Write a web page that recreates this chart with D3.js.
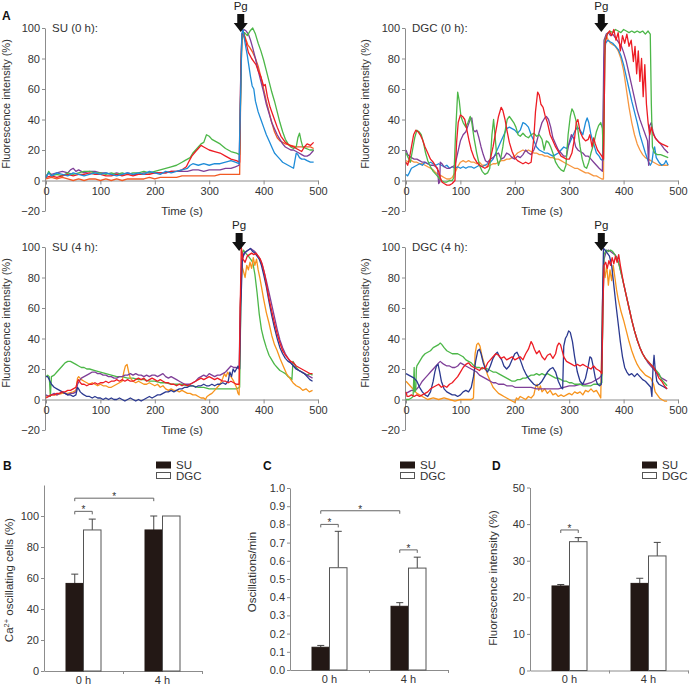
<!DOCTYPE html>
<html><head><meta charset="utf-8">
<script src="https://cdn.jsdelivr.net/npm/d3@7"></script>
<style>body{margin:0;background:#fff} svg{display:block} text{font-family:Arial,"Liberation Sans",Helvetica,sans-serif}</style>
</head><body><svg id="c" width="690" height="687"></svg>
<script>
// ---------- Data: panel A traces, [time (s), fluorescence (%)] ----------
const xTicks = [0,100,200,300,400,500];
const yTicks = [-20,0,20,40,60,80,100];

// SU (0 h)
const su0_green = [[0,2],[5,6],[10,3],[20,4],[30,3],[40,5],[50,4],[60,5],[70,6],[80,6],[90,5],[100,5],[110,4],[120,5],[130,4],[140,5],[150,4],[160,5],[170,5],[180,6],[190,5],[200,6],[210,7],[220,8],[230,9],[240,10],[250,12],[255,13],[260,14],[265,15],[270,18],[275,20],[280,22],[285,24],[290,25],[295,30],[300,29],[305,27],[310,26],[320,24],[330,21],[340,19],[350,18],[356,17],[358,60],[360,92],[365,97],[370,95],[375,98],[380,100],[385,96],[390,90],[395,85],[400,79],[405,72],[410,65],[415,58],[420,52],[425,45],[430,38],[435,32],[440,27],[445,24],[450,22],[455,21],[460,22],[463,28],[466,31],[469,26],[472,22],[478,21],[485,20],[492,20]];
const su0_red = [[0,2],[10,3],[20,2],[30,3],[40,4],[50,3],[60,4],[70,4],[80,5],[90,4],[100,4],[110,3],[120,3],[130,4],[140,3],[150,4],[160,3],[170,4],[180,4],[190,4],[200,5],[210,5],[220,5],[230,6],[240,6],[250,7],[258,9],[262,12],[268,16],[275,19],[280,21],[285,23],[290,22],[295,21],[300,20],[310,19],[320,18],[330,16],[340,14],[350,13],[356,12],[358,70],[360,95],[363,97],[368,90],[372,84],[378,80],[382,78],[386,76],[390,72],[395,68],[400,62],[403,63],[407,55],[412,48],[418,42],[425,35],[432,29],[440,25],[448,23],[455,22],[460,21],[465,20],[470,19],[475,22],[480,24],[486,23],[492,25]];
const su0_blue = [[0,2],[5,5],[10,3],[20,5],[30,4],[40,3],[50,5],[60,4],[70,3],[80,4],[90,5],[100,4],[110,5],[120,4],[130,3],[140,4],[150,5],[160,4],[170,5],[180,4],[190,6],[200,5],[210,4],[220,6],[230,5],[240,6],[250,7],[260,8],[265,10],[270,11],[280,10],[290,11],[300,10],[310,11],[320,11],[330,12],[340,13],[348,12],[355,11],[358,60],[360,96],[362,99],[366,90],[370,82],[373,75],[376,68],[379,62],[382,60],[385,52],[390,45],[395,40],[400,35],[405,30],[410,26],[415,22],[420,18],[425,16],[430,14],[435,12],[440,11],[445,10],[450,9],[455,8],[457,12],[460,18],[463,17],[466,15],[470,14],[475,14],[480,13],[486,12],[492,12]];
const su0_purple = [[0,3],[5,5],[10,4],[20,5],[30,6],[40,5],[45,7],[50,8],[55,6],[60,7],[65,6],[70,5],[80,6],[90,6],[100,5],[110,5],[120,4],[130,5],[140,4],[150,5],[160,4],[170,4],[180,5],[190,5],[200,5],[210,5],[220,5],[230,6],[240,6],[250,6],[260,6],[270,7],[280,7],[290,6],[300,7],[310,7],[320,7],[330,8],[340,8],[348,9],[355,10],[358,70],[360,96],[364,99],[368,98],[372,96],[376,92],[380,87],[385,80],[390,72],[395,65],[400,58],[405,50],[410,44],[415,38],[420,34],[425,30],[430,27],[435,24],[440,22],[445,21],[450,20],[455,20],[460,19],[465,18],[470,17],[475,16],[480,16],[485,17],[490,19],[492,20]];
const su0_orange = [[0,1],[10,2],[20,1],[30,2],[40,1],[50,0],[60,1],[70,0],[80,1],[90,1],[100,0],[110,1],[120,0],[130,1],[140,0],[150,1],[160,1],[170,1],[180,1],[190,2],[200,1],[210,2],[220,2],[230,2],[240,2],[250,3],[260,3],[270,3],[280,3],[290,3],[300,3],[310,3],[320,4],[330,4],[340,4],[350,4],[356,4],[358,60],[360,96],[363,97],[367,93],[371,89],[375,87],[380,84],[385,80],[390,75],[395,68],[400,60],[405,52],[410,45],[415,38],[420,32],[425,28],[430,26],[440,24],[450,23],[460,22],[470,22],[480,22],[486,22],[492,21]];

// DGC (0 h)
const dgc0_red = [[0,12],[3,10],[6,14],[10,22],[14,30],[18,33],[22,32],[26,30],[30,27],[35,22],[40,18],[45,14],[50,12],[55,9],[60,6],[63,2],[66,-1],[70,-2],[75,-3],[80,-3],[85,-2],[90,0],[93,25],[96,38],[100,43],[104,42],[108,40],[112,33],[116,26],[120,20],[125,15],[130,12],[135,10],[140,9],[145,8],[150,9],[155,14],[160,22],[165,32],[170,42],[175,48],[178,46],[182,40],[186,32],[190,25],[195,19],[200,15],[205,13],[210,12],[215,11],[220,12],[225,11],[230,12],[235,28],[238,45],[242,58],[245,56],[248,50],[252,48],[256,42],[260,38],[265,30],[270,26],[275,22],[280,19],[285,16],[290,15],[295,14],[300,14],[305,18],[310,28],[313,38],[316,40],[320,32],[325,28],[330,26],[335,27],[338,30],[342,22],[345,28],[348,24],[352,20],[356,18],[360,16],[363,14],[366,90],[370,96],[374,98],[378,95],[382,99],[386,92],[390,97],[394,85],[398,95],[402,90],[406,96],[410,88],[414,92],[418,78],[421,88],[424,70],[427,85],[430,65],[433,80],[436,55],[439,76],[442,50],[445,38],[448,30],[451,35],[455,30],[460,27],[465,25],[470,24],[476,23],[482,22]];
const dgc0_green = [[0,18],[4,15],[8,12],[12,20],[16,28],[20,33],[24,32],[28,30],[32,25],[36,18],[40,13],[45,9],[50,6],[55,4],[60,2],[65,0],[70,-1],[75,-1],[80,0],[85,0],[88,2],[91,30],[95,58],[98,52],[101,42],[105,38],[110,35],[114,38],[118,42],[121,38],[125,28],[130,18],[135,10],[140,6],[145,4],[150,5],[154,8],[158,30],[161,40],[164,28],[167,15],[170,10],[174,14],[178,22],[182,32],[186,40],[190,42],[194,40],[198,38],[202,35],[206,30],[210,29],[215,31],[220,29],[225,28],[230,30],[235,31],[240,29],[245,30],[250,27],[254,20],[258,26],[262,25],[266,22],[270,18],[275,12],[280,9],[285,7],[290,6],[294,10],[298,30],[302,42],[305,47],[308,45],[312,40],[316,33],[320,22],[324,14],[328,9],[332,8],[336,12],[340,18],[345,24],[350,32],[354,36],[358,38],[361,34],[363,14],[366,92],[370,96],[375,98],[380,97],[385,99],[390,98],[395,97],[400,99],[405,98],[410,97],[415,98],[420,97],[425,98],[430,97],[435,98],[440,96],[445,98],[449,96],[451,50],[453,22],[457,18],[462,17],[468,17],[475,16],[482,15]];
const dgc0_purple = [[0,20],[3,17],[6,16],[10,15],[15,14],[20,14],[25,13],[30,12],[35,12],[40,11],[45,10],[50,10],[55,9],[58,8],[60,-2],[62,-1],[63,12],[66,11],[70,9],[75,8],[80,8],[85,9],[90,10],[95,18],[100,26],[105,30],[110,32],[114,36],[118,40],[121,41],[124,33],[127,32],[130,33],[134,28],[138,22],[142,17],[146,13],[150,12],[155,14],[160,15],[165,17],[170,18],[175,14],[180,15],[185,18],[190,17],[195,15],[200,14],[205,16],[210,15],[215,17],[220,20],[225,18],[230,17],[235,20],[240,25],[245,32],[250,38],[255,41],[258,42],[262,40],[266,35],[270,28],[275,24],[280,20],[285,18],[290,16],[295,16],[300,25],[304,30],[308,28],[312,22],[316,20],[320,19],[325,18],[330,16],[335,16],[340,14],[345,12],[350,10],[355,8],[358,7],[361,6],[364,92],[368,96],[372,97],[376,95],[380,96],[384,94],[388,92],[392,90],[396,88],[400,84],[405,78],[410,70],[415,62],[420,54],[425,46],[430,40],[435,35],[440,30],[444,26],[446,10],[448,36],[451,38],[454,32],[458,28],[463,26],[468,24],[474,21],[482,18]];
const dgc0_blue = [[0,4],[3,3],[6,5],[10,8],[15,9],[20,10],[25,11],[30,10],[35,12],[40,11],[45,12],[50,11],[55,10],[60,11],[65,10],[70,9],[75,10],[80,8],[85,9],[90,8],[95,9],[100,8],[105,9],[110,8],[115,9],[120,9],[125,8],[130,9],[135,10],[140,9],[145,10],[150,11],[155,12],[160,14],[165,18],[170,22],[175,26],[180,30],[185,34],[190,35],[195,34],[200,33],[205,31],[210,33],[215,38],[220,37],[225,35],[230,30],[235,26],[240,22],[245,20],[250,19],[255,18],[260,18],[265,17],[270,16],[275,17],[280,18],[285,20],[290,22],[295,21],[300,24],[305,28],[310,32],[315,35],[320,33],[325,30],[330,38],[333,41],[336,38],[340,30],[345,24],[350,18],[355,16],[358,14],[362,13],[364,80],[367,90],[371,92],[375,91],[380,90],[385,88],[390,86],[395,82],[400,76],[405,68],[410,60],[415,52],[420,45],[425,38],[430,30],[435,24],[440,18],[445,13],[449,10],[452,12],[455,20],[457,22],[460,15],[465,12],[470,10],[475,11],[478,13],[482,10]];
const dgc0_orange = [[0,13],[5,12],[10,13],[15,12],[20,12],[25,11],[30,11],[35,10],[40,9],[45,8],[50,7],[55,5],[60,4],[65,3],[70,2],[75,1],[80,1],[85,2],[90,5],[95,9],[100,12],[105,13],[110,12],[115,13],[120,12],[125,12],[130,11],[135,12],[140,10],[145,10],[150,9],[155,10],[160,11],[165,11],[170,12],[175,13],[180,13],[185,14],[190,14],[195,15],[200,16],[205,18],[210,19],[215,20],[220,19],[225,20],[230,19],[235,18],[240,18],[245,17],[250,17],[255,16],[260,16],[265,15],[270,15],[275,14],[280,14],[285,13],[290,12],[295,11],[300,10],[305,9],[310,8],[315,8],[320,7],[325,6],[330,5],[335,5],[340,4],[345,3],[350,3],[355,2],[360,1],[363,1],[365,90],[368,95],[372,92],[376,90],[380,89],[385,88],[390,85],[395,80],[400,72],[405,60],[410,48],[415,38],[420,30],[425,24],[430,20],[435,17],[440,15],[445,14],[450,13],[455,12],[460,11],[465,10],[470,10],[476,10],[482,10]];

// SU (4 h)
const su4_green = [[0,15],[3,16],[6,15],[8,2],[10,15],[15,16],[20,18],[25,20],[30,22],[35,24],[40,25],[45,25],[50,24],[55,23],[60,22],[65,21],[70,21],[75,20],[80,20],[90,19],[100,18],[110,17],[120,16],[130,15],[140,15],[150,14],[160,14],[170,13],[180,13],[190,12],[200,12],[210,11],[220,11],[230,10],[240,10],[250,10],[260,9],[270,9],[280,8],[290,8],[300,7],[310,7],[320,7],[330,7],[340,7],[350,7],[356,8],[358,60],[360,95],[363,98],[367,96],[372,94],[376,92],[380,90],[384,82],[388,70],[392,56],[396,46],[400,40],[405,34],[410,29],[415,26],[420,23],[425,21],[430,19],[435,18],[440,17],[445,15],[450,14],[452,13],[454,25],[457,23],[460,21],[465,19],[470,18],[475,17],[480,16],[485,17],[490,16]];
const su4_orange = [[0,2],[10,3],[20,3],[30,4],[40,4],[50,5],[55,6],[58,14],[60,15],[65,13],[70,12],[75,11],[80,10],[85,11],[90,10],[95,9],[100,10],[105,9],[110,9],[115,8],[120,8],[125,9],[130,10],[135,11],[140,12],[143,18],[146,22],[149,23],[152,18],[155,14],[160,12],[165,11],[170,12],[175,11],[180,10],[185,10],[190,11],[195,10],[200,9],[205,10],[210,8],[215,9],[220,7],[225,6],[230,7],[235,6],[240,6],[245,5],[250,6],[255,5],[260,4],[265,4],[270,3],[275,3],[280,2],[285,1],[290,1],[293,0],[296,2],[300,3],[305,4],[310,6],[315,8],[320,10],[325,14],[328,17],[331,15],[334,18],[337,16],[340,15],[345,12],[350,8],[353,4],[355,3],[357,60],[360,88],[363,84],[366,80],[369,88],[372,85],[375,90],[378,86],[381,93],[384,88],[387,92],[390,85],[393,80],[396,74],[400,66],[405,57],[410,50],[415,42],[420,36],[425,32],[430,27],[436,22],[442,17],[448,14],[454,11],[460,9],[466,8],[472,6],[478,7],[484,5],[490,6]];
const su4_blue = [[0,15],[3,15],[6,13],[10,10],[15,8],[20,7],[25,6],[30,5],[35,4],[40,3],[45,3],[50,2],[55,3],[58,8],[60,7],[63,5],[66,4],[70,3],[75,2],[80,2],[85,1],[90,2],[95,1],[100,1],[105,0],[110,1],[115,0],[120,1],[125,0],[130,0],[135,1],[140,0],[145,-1],[150,0],[155,1],[160,0],[165,-1],[170,0],[175,-1],[180,0],[185,1],[190,2],[195,1],[200,2],[205,3],[210,3],[215,4],[220,5],[225,5],[230,6],[235,5],[240,6],[245,7],[250,7],[255,8],[260,8],[265,9],[270,9],[275,8],[280,9],[285,9],[290,10],[295,9],[300,9],[305,10],[310,9],[315,10],[320,10],[325,11],[330,10],[335,12],[338,18],[341,15],[344,20],[347,18],[350,20],[353,22],[356,20],[358,60],[361,92],[364,96],[368,97],[372,98],[376,99],[380,97],[384,96],[388,94],[392,92],[396,88],[400,82],[405,74],[410,64],[415,55],[420,47],[425,40],[430,34],[435,30],[440,27],[445,25],[450,24],[455,22],[460,20],[465,19],[470,18],[475,17],[480,15],[485,13],[490,12]];
const su4_red = [[0,1],[5,2],[10,3],[15,3],[20,4],[25,4],[30,5],[35,5],[40,6],[45,6],[50,7],[55,8],[58,12],[60,13],[63,11],[66,10],[70,10],[75,9],[80,10],[85,10],[90,11],[95,10],[100,11],[105,11],[110,12],[115,11],[120,12],[125,12],[130,13],[135,12],[140,13],[145,12],[150,13],[155,12],[160,12],[165,13],[170,14],[175,13],[180,14],[185,12],[190,13],[195,14],[200,13],[205,12],[210,13],[215,12],[220,11],[225,11],[230,10],[235,10],[240,9],[245,10],[250,9],[255,10],[260,9],[265,10],[270,11],[275,12],[280,13],[285,14],[290,13],[295,14],[300,15],[305,14],[310,13],[315,14],[320,13],[325,12],[330,12],[335,11],[340,12],[345,11],[350,10],[355,10],[357,60],[359,100],[362,92],[366,90],[370,94],[374,95],[378,96],[382,95],[386,96],[390,94],[394,92],[398,88],[402,82],[406,74],[410,66],[415,58],[420,50],[425,43],[430,37],[435,32],[440,29],[445,27],[450,25],[455,24],[460,22],[465,21],[470,20],[475,19],[480,18],[485,17],[490,17]];
const su4_purple = [[0,3],[5,2],[10,3],[15,4],[20,3],[25,4],[30,5],[35,4],[40,3],[45,4],[50,4],[55,5],[58,10],[61,12],[65,14],[70,15],[75,16],[80,17],[85,18],[90,18],[95,17],[100,17],[105,16],[110,16],[115,15],[120,15],[125,14],[130,14],[135,15],[140,15],[145,16],[150,16],[155,17],[160,16],[165,17],[170,16],[175,16],[180,15],[185,16],[190,15],[195,16],[200,16],[205,15],[210,16],[215,17],[220,15],[225,14],[230,15],[235,14],[240,13],[245,12],[250,11],[255,10],[260,10],[265,10],[270,11],[275,12],[280,14],[285,15],[290,16],[295,15],[300,17],[305,16],[310,15],[315,16],[320,16],[325,17],[330,18],[335,20],[340,22],[345,21],[350,21],[355,20],[357,60],[360,92],[364,95],[368,97],[372,98],[376,99],[380,98],[384,97],[388,95],[392,93],[396,90],[400,85],[405,78],[410,70],[415,62],[420,54],[425,46],[430,39],[435,34],[440,30],[445,27],[450,24],[455,22],[460,20],[465,19],[470,18],[475,17],[480,16],[485,15],[490,14]];

// DGC (4 h)
const dgc4_green = [[0,0],[5,0],[10,1],[13,2],[15,21],[16,5],[18,6],[19,20],[20,22],[25,25],[30,28],[35,30],[40,31],[45,32],[50,34],[55,35],[60,36],[63,37],[66,36],[70,34],[75,32],[80,31],[85,30],[90,30],[95,30],[100,29],[105,28],[110,26],[115,25],[120,24],[125,22],[130,21],[135,21],[140,20],[145,21],[150,20],[155,19],[160,18],[165,18],[170,17],[175,16],[180,15],[185,14],[190,13],[195,12],[200,12],[205,13],[210,13],[215,14],[220,14],[225,15],[230,16],[235,16],[240,17],[245,16],[250,17],[255,16],[260,17],[265,16],[270,15],[275,14],[280,14],[285,13],[290,12],[295,12],[300,11],[305,11],[310,10],[315,10],[320,10],[325,9],[330,9],[335,9],[340,9],[345,10],[350,10],[355,10],[360,11],[362,60],[364,95],[368,98],[372,97],[376,98],[380,97],[384,95],[388,92],[392,88],[396,82],[400,76],[405,68],[410,60],[415,52],[420,45],[425,39],[430,34],[435,30],[440,27],[445,25],[450,23],[455,21],[460,19],[465,17],[470,13],[475,11],[480,9]];
const dgc4_purple = [[0,4],[5,5],[10,6],[15,6],[20,7],[25,9],[30,12],[35,14],[40,16],[45,18],[50,20],[55,22],[60,24],[63,25],[66,24],[70,23],[75,22],[80,22],[85,21],[90,21],[95,22],[100,24],[105,23],[110,22],[115,21],[120,20],[125,19],[130,18],[135,16],[140,15],[145,14],[150,13],[155,12],[160,11],[165,11],[170,10],[175,10],[180,10],[185,9],[190,9],[195,9],[200,8],[210,8],[220,8],[230,8],[240,7],[250,7],[260,7],[270,7],[280,7],[290,8],[300,9],[310,9],[320,10],[330,10],[340,11],[345,12],[350,13],[355,14],[360,16],[362,60],[364,92],[368,97],[372,98],[376,97],[380,96],[384,95],[388,93],[392,88],[396,82],[400,76],[405,68],[410,60],[415,52],[420,45],[425,39],[430,34],[435,30],[440,27],[445,24],[450,22],[455,20],[460,18],[465,16],[470,14],[475,13],[480,12]];
const dgc4_blue = [[0,17],[5,16],[10,15],[15,14],[20,12],[25,8],[30,5],[35,3],[40,2],[45,5],[50,12],[53,18],[56,22],[59,23],[62,18],[65,12],[70,7],[75,5],[80,4],[85,3],[90,3],[95,2],[100,3],[105,5],[110,6],[115,5],[120,8],[124,15],[128,25],[132,32],[135,33],[138,30],[142,24],[146,20],[150,18],[155,22],[160,27],[165,30],[168,31],[172,28],[176,26],[180,22],[185,20],[190,22],[195,26],[200,30],[204,31],[208,28],[212,24],[216,20],[220,17],[225,14],[230,12],[235,10],[240,9],[245,10],[250,12],[255,15],[260,18],[265,20],[270,21],[275,18],[280,12],[285,8],[288,7],[290,35],[293,40],[296,42],[299,45],[302,44],[306,38],[310,28],[315,18],[320,12],[325,10],[330,14],[335,22],[338,28],[341,27],[344,22],[348,14],[352,10],[356,9],[359,10],[361,60],[363,99],[366,98],[370,96],[374,94],[378,88],[382,75],[386,62],[390,50],[394,38],[398,28],[402,21],[406,18],[410,16],[415,17],[420,15],[425,17],[430,15],[435,13],[440,12],[445,10],[450,8],[452,2],[454,20],[456,29],[458,20],[461,12],[465,10],[470,9],[475,8],[480,7]];
const dgc4_red = [[0,5],[2,2],[5,2],[10,3],[15,2],[20,3],[25,2],[30,3],[35,4],[40,5],[45,7],[50,8],[55,9],[60,10],[65,8],[70,9],[75,8],[80,10],[85,11],[90,13],[95,15],[100,18],[105,21],[110,23],[115,24],[120,22],[125,21],[130,20],[135,19],[140,21],[145,20],[150,24],[155,26],[160,28],[165,30],[170,29],[175,27],[180,28],[185,26],[190,27],[195,28],[200,26],[205,27],[210,28],[215,26],[220,30],[225,33],[230,38],[233,36],[236,33],[240,30],[245,32],[250,28],[255,26],[260,29],[265,30],[270,27],[275,30],[278,35],[281,37],[284,36],[287,32],[290,28],[295,25],[300,24],[305,23],[310,22],[315,23],[320,22],[325,23],[330,22],[335,21],[340,20],[345,22],[350,20],[355,19],[358,18],[360,17],[362,60],[364,88],[367,90],[370,86],[373,91],[376,88],[379,93],[382,89],[385,94],[388,90],[391,95],[394,88],[397,82],[400,76],[405,68],[410,60],[415,52],[420,45],[425,39],[430,34],[435,30],[440,27],[445,25],[450,23],[455,21],[460,18],[465,14],[470,12],[475,9],[480,7]];
const dgc4_orange = [[0,12],[5,10],[10,8],[15,6],[20,4],[25,3],[30,2],[35,1],[40,0],[50,1],[60,0],[70,1],[80,0],[90,-1],[100,0],[110,0],[120,0],[124,1],[127,30],[130,36],[133,37],[136,35],[140,28],[145,22],[150,16],[155,12],[160,8],[165,6],[170,4],[175,3],[180,2],[185,1],[190,0],[195,-1],[200,-2],[203,1],[206,0],[210,2],[215,1],[220,0],[225,2],[230,1],[235,3],[238,8],[241,10],[244,6],[247,9],[250,5],[255,7],[260,4],[265,6],[270,3],[275,4],[280,2],[285,3],[290,2],[295,3],[300,4],[305,3],[310,5],[315,4],[320,5],[325,3],[330,6],[335,5],[340,7],[345,5],[350,6],[355,3],[358,1],[361,60],[363,88],[366,80],[369,88],[372,75],[375,85],[378,78],[381,88],[384,80],[387,72],[390,66],[395,58],[400,52],[405,45],[410,38],[415,32],[420,27],[425,23],[430,20],[435,18],[440,16],[445,15],[450,14],[455,10],[458,5],[462,3],[466,1],[470,0],[475,-1],[480,-1]];

// ---------- Data: bar panels ----------
const groups = ["0 h","4 h"];
const seriesNames = ["SU","DGC"];
const B_su = [56.5, 91], B_suErr = [6, 9];
const B_dgc = [91, 100], B_dgcErr = [7, 0];
const C_su = [0.125, 0.35], C_suErr = [0.01, 0.02];
const C_dgc = [0.562, 0.56], C_dgcErr = [0.2, 0.06];
const D_su = [23.1, 23.8], D_suErr = [0.4, 1.4];
const D_dgc = [35.2, 31.3], D_dgcErr = [1.1, 3.7];
const B_ticks = [0,20,40,60,80,100];
const C_ticks = [0,0.1,0.2,0.3,0.4,0.5,0.6,0.7,0.8,0.9,1.0];
const D_ticks = [0,10,20,30,40,50];

// ---------- Drawing ----------
const svg = d3.select("#c");
const AX = "#8c8c8c", TX = "#333";
const C = {green:"#4cb748", red:"#ed1c24", lblue:"#1e8cd8", purple:"#7f3f98", rorange:"#f15a24", lorange:"#f7963f", orange:"#f7941d", dblue:"#2b3990"};

const linePanels = [
  {title:"SU (0 h):", x0:46, top:28, pg:358, labX:10, series:[[su0_orange,C.rorange],[su0_purple,C.purple],[su0_green,C.green],[su0_red,C.red],[su0_blue,C.lblue]]},
  {title:"DGC (0 h):", x0:406, top:28, pg:359, labX:369, series:[[dgc0_orange,C.lorange],[dgc0_blue,C.lblue],[dgc0_purple,C.purple],[dgc0_green,C.green],[dgc0_red,C.red]]},
  {title:"SU (4 h):", x0:46, top:247, pg:355, labX:10, series:[[su4_green,C.green],[su4_orange,C.orange],[su4_purple,C.purple],[su4_blue,C.dblue],[su4_red,C.red]]},
  {title:"DGC (4 h):", x0:406, top:247, pg:359, labX:369, series:[[dgc4_orange,C.orange],[dgc4_purple,C.purple],[dgc4_green,C.green],[dgc4_blue,C.dblue],[dgc4_red,C.red]]}
];

function styleAxis(g){
  g.selectAll("path,line").attr("stroke",AX).attr("stroke-width",1);
  g.selectAll("text").attr("fill",TX).attr("font-size",11);
}

linePanels.forEach(p=>{
  const x = d3.scaleLinear([0,500],[p.x0,p.x0+272]);
  const y = d3.scaleLinear([-20,100],[p.top+183,p.top]);
  const g = svg.append("g");
  const ya = g.append("g").attr("transform",`translate(${p.x0-1},0)`)
    .call(d3.axisLeft(y).tickValues(yTicks).tickSize(3).tickPadding(2).tickSizeOuter(0));
  styleAxis(ya);
  const xa = g.append("g").attr("transform",`translate(0,${y(0)})`)
    .call(d3.axisBottom(x).tickValues(xTicks).tickSize(4).tickPadding(3).tickSizeOuter(0));
  styleAxis(xa);
  const line = d3.line().x(d=>x(d[0])).y(d=>y(d[1]));
  p.series.forEach(([data,col])=>{
    g.append("path").attr("d",line(data)).attr("fill","none").attr("stroke",col)
      .attr("stroke-width",1.3).attr("stroke-linejoin","round");
  });
  g.append("text").attr("x",p.x0+6).attr("y",p.top+4).attr("font-size",11.5).attr("fill",TX).text(p.title);
  g.append("text").attr("transform",`translate(${p.labX},${p.top+76}) rotate(-90)`)
    .attr("text-anchor","middle").attr("font-size",11).attr("fill",TX).text("Fluorescence intensity (%)");
  g.append("text").attr("x",p.x0+136).attr("y",p.top+187).attr("text-anchor","middle")
    .attr("font-size",11.5).attr("fill",TX).text("Time (s)");
  const ax = x(p.pg), t = p.top;
  g.append("text").attr("x",ax).attr("y",t-18).attr("text-anchor","middle").attr("font-size",11.5).attr("fill","#222").text("Pg");
  g.append("path").attr("d",`M${ax-3.5},${t-14} H${ax+3.5} V${t-5} H${ax+7} L${ax},${t+4} L${ax-7},${t-5} H${ax-3.5} Z`).attr("fill","#111");
});
svg.append("text").attr("x",2).attr("y",20).attr("font-size",12).attr("font-weight","bold").attr("fill","#111").text("A");

const barPanels = [
  {letter:"B", lx:3, x0:44, y0:671, yTop:485, domain:[0,120], ticks:B_ticks, fmt:d3.format("d"),
   su:B_su, suErr:B_suErr, dgc:B_dgc, dgcErr:B_dgcErr, ylab:"oscillating cells (%)", ylx:13, yly:580, sup:true, legX:156,
   brackets:[[0,"SU",0,"DGC",103],[0,"SU",1,"SU",111.5]]},
  {letter:"C", lx:263, x0:290, y0:670, yTop:488, domain:[0,1], ticks:C_ticks, fmt:d3.format(".1f"),
   su:C_su, suErr:C_suErr, dgc:C_dgc, dgcErr:C_dgcErr, ylab:"Oscillations/min", ylx:256, yly:572, legX:400,
   brackets:[[0,"SU",0,"DGC",0.80],[0,"SU",1,"SU",0.875],[1,"SU",1,"DGC",0.66]]},
  {letter:"D", lx:492, x0:530, y0:670.5, yTop:487.5, domain:[0,50], ticks:D_ticks, fmt:d3.format("d"),
   su:D_su, suErr:D_suErr, dgc:D_dgc, dgcErr:D_dgcErr, ylab:"Fluorescence intensity (%)", ylx:497, yly:578, legX:642,
   brackets:[[0,"SU",0,"DGC",38.4]]}
];

barPanels.forEach(p=>{
  const g = svg.append("g");
  const y = d3.scaleLinear(p.domain,[p.y0,p.yTop]);
  const xb = d3.scaleBand(groups,[p.x0,p.x0+158]).padding(0);
  const xl = d3.scaleLinear([0,2],[p.x0,p.x0+158]);
  const bw = 17.5;
  const ya = g.append("g").attr("transform",`translate(${p.x0},0)`)
    .call(d3.axisLeft(y).tickValues(p.ticks).tickFormat(p.fmt).tickSize(3).tickPadding(2).tickSizeOuter(0));
  styleAxis(ya);
  const xa = g.append("g").attr("transform",`translate(0,${p.y0})`)
    .call(d3.axisBottom(xl).tickValues([1,2]).tickFormat("").tickSize(3).tickSizeOuter(0));
  styleAxis(xa);
  const xc = g.append("g").attr("transform",`translate(0,${p.y0})`)
    .call(d3.axisBottom(xb).tickSize(0).tickPadding(5));
  xc.select(".domain").remove();
  styleAxis(xc);
  const cx = (gi,s)=> xb(groups[gi]) + xb.bandwidth()/2 + (s==="SU" ? -bw/2 : bw/2);
  [["SU",p.su,p.suErr],["DGC",p.dgc,p.dgcErr]].forEach(([s,vals,errs])=>{
    vals.forEach((v,i)=>{
      const left = cx(i,s)-bw/2;
      if(errs[i]>0){
        const xe = cx(i,s);
        g.append("line").attr("x1",xe).attr("x2",xe).attr("y1",y(v)).attr("y2",y(v+errs[i])).attr("stroke","#444").attr("stroke-width",1);
        g.append("line").attr("x1",xe-3.5).attr("x2",xe+3.5).attr("y1",y(v+errs[i])).attr("y2",y(v+errs[i])).attr("stroke","#444").attr("stroke-width",1);
      }
      g.append("rect").attr("x",left).attr("y",y(v)).attr("width",bw).attr("height",p.y0-y(v))
        .attr("fill", s==="SU" ? "#231815" : "#fff").attr("stroke", s==="SU" ? "#231815" : "#555").attr("stroke-width",1);
    });
  });
  p.brackets.forEach(([g1,s1,g2,s2,v])=>{
    const x1 = cx(g1,s1), x2 = cx(g2,s2), yy = y(v);
    g.append("path").attr("d",`M${x1},${yy+3} V${yy} H${x2} V${yy+3}`).attr("fill","none").attr("stroke","#666").attr("stroke-width",1);
    g.append("text").attr("x",(x1+x2)/2).attr("y",yy+2).attr("text-anchor","middle").attr("font-size",10).attr("fill","#333").text("*");
  });
  // legend
  g.append("rect").attr("x",p.legX).attr("y",461.5).attr("width",15).attr("height",7).attr("fill","#231815");
  g.append("rect").attr("x",p.legX+0.5).attr("y",472.5).attr("width",14).attr("height",6).attr("fill","#fff").attr("stroke","#555");
  g.append("text").attr("x",p.legX+20).attr("y",469).attr("font-size",11.5).attr("fill",TX).text(seriesNames[0]);
  g.append("text").attr("x",p.legX+20).attr("y",480).attr("font-size",11.5).attr("fill",TX).text(seriesNames[1]);
  g.append("text").attr("x",p.lx).attr("y",470).attr("font-size",12).attr("font-weight","bold").attr("fill","#111").text(p.letter);
  const yl = g.append("text").attr("transform",`translate(${p.ylx},${p.yly}) rotate(-90)`)
    .attr("text-anchor","middle").attr("font-size",11.5).attr("fill",TX);
  if(p.sup){
    yl.append("tspan").text("Ca");
    yl.append("tspan").attr("dy",-4).attr("font-size",7.5).text("2+");
    yl.append("tspan").attr("dy",4).text(" " + p.ylab);
  } else yl.text(p.ylab);
});
</script></body></html>
